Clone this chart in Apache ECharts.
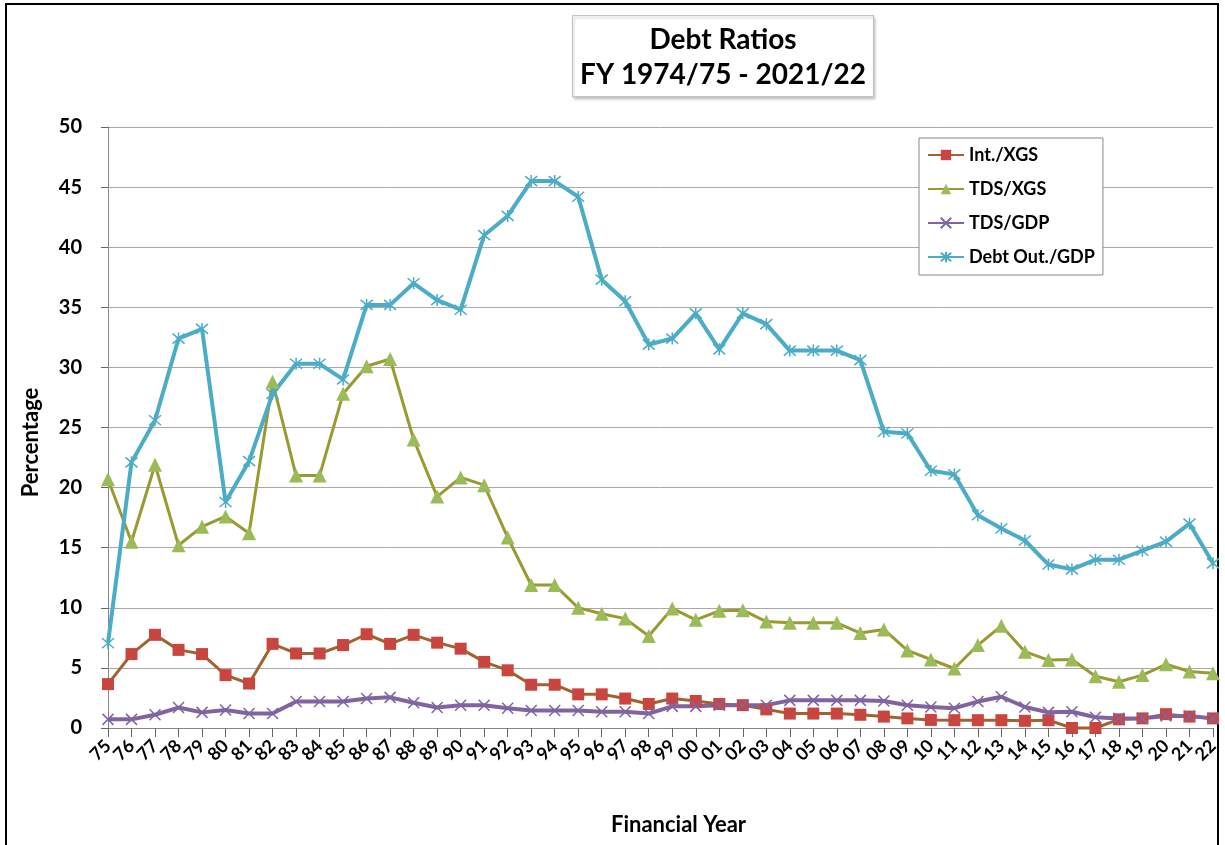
<!DOCTYPE html>
<html>
<head>
<meta charset="utf-8">
<title>Debt Ratios</title>
<script src="https://cdn.jsdelivr.net/npm/echarts@6/dist/echarts.min.js"></script>
<style>
  html, body { margin: 0; padding: 0; background: #fff; }
  #main { width: 1225px; height: 845px; }
</style>
</head>
<body>
<div id="main"></div>
<script>
var years = ['75','76','77','78','79','80','81','82','83','84','85','86','87','88','89','90',
  '91','92','93','94','95','96','97','98','99','00','01','02','03','04','05','06','07','08',
  '09','10','11','12','13','14','15','16','17','18','19','20','21','22'];

var intXgs = [3.65, 6.15, 7.75, 6.5, 6.15, 4.4, 3.7, 7.0, 6.2, 6.2,
  6.9, 7.8, 7.0, 7.75, 7.1, 6.6, 5.5, 4.8, 3.6, 3.6,
  2.8, 2.8, 2.45, 2.0, 2.45, 2.25, 2.0, 1.9, 1.55, 1.2,
  1.2, 1.2, 1.1, 0.95, 0.8, 0.67, 0.65, 0.65, 0.65, 0.6,
  0.65, 0.0, 0.0, 0.72, 0.8, 1.15, 0.95, 0.8];

var tdsXgs = [20.7, 15.5, 21.9, 15.2, 16.75, 17.6, 16.2, 28.8, 21.0, 21.0,
  27.8, 30.1, 30.7, 24.0, 19.25, 20.85, 20.2, 15.85, 11.9, 11.9,
  10.0, 9.5, 9.1, 7.65, 9.95, 9.0, 9.75, 9.8, 8.85, 8.75,
  8.75, 8.75, 7.9, 8.2, 6.45, 5.7, 4.95, 6.9, 8.5, 6.35,
  5.65, 5.7, 4.3, 3.85, 4.4, 5.3, 4.7, 4.55];

var tdsGdp = [0.72, 0.72, 1.1, 1.7, 1.3, 1.5, 1.2, 1.2, 2.2, 2.2,
  2.2, 2.45, 2.55, 2.1, 1.7, 1.9, 1.9, 1.65, 1.45, 1.45,
  1.45, 1.35, 1.35, 1.2, 1.8, 1.8, 1.9, 1.9, 1.9, 2.3,
  2.3, 2.3, 2.3, 2.25, 1.9, 1.75, 1.65, 2.2, 2.6, 1.75,
  1.3, 1.35, 0.9, 0.8, 0.8, 1.0, 1.0, 0.8];

var debtGdp = [7.05, 22.1, 25.6, 32.4, 33.2, 18.8, 22.2, 27.8, 30.3, 30.3,
  29.0, 35.2, 35.2, 37.0, 35.6, 34.8, 41.0, 42.6, 45.5, 45.5,
  44.2, 37.3, 35.5, 31.9, 32.4, 34.5, 31.5, 34.5, 33.6, 31.4,
  31.4, 31.4, 30.6, 24.65, 24.5, 21.4, 21.1, 17.7, 16.6, 15.6,
  13.6, 13.2, 14.0, 14.0, 14.75, 15.5, 17.0, 13.7];

var font = 'Lato, "Open Sans", sans-serif';
var crossPath = 'path://M0,0L10,10M10,0L0,10';
var starPath = 'path://M0,0L10,10M10,0L0,10M5,-1L5,11';

var chart = echarts.init(document.getElementById('main'));

var option = {
    animation: false,
    backgroundColor: '#fff',
    title: {
        text: 'Debt Ratios\nFY 1974/75 - 2021/22',
        left: 717,
        top: 15,
        textAlign: 'center',
        padding: [7, 6, 5, 6],
        borderColor: '#c4c4c4',
        borderWidth: 1,
        backgroundColor: '#fff',
        shadowColor: 'rgba(0,0,0,0.25)',
        shadowBlur: 3,
        shadowOffsetX: 1,
        shadowOffsetY: 2,
        textStyle: {
            width: 290,
            fontFamily: font,
            fontSize: 28,
            lineHeight: 35,
            fontWeight: 'bold',
            color: '#000'
        }
    },
    graphic: [
        {
            type: 'rect',
            shape: { x: 6, y: 4, width: 1212, height: 860 },
            style: { fill: 'none', stroke: '#000', lineWidth: 2 },
            silent: true
        }
    ],
    legend: {
        orient: 'vertical',
        left: 919,
        top: 138,
        padding: [6, 8, 7, 8],
        itemGap: 12,
        itemWidth: 36,
        itemHeight: 13,
        borderColor: '#888',
        borderWidth: 1,
        backgroundColor: '#fff',
        textStyle: {
            fontFamily: font,
            fontSize: 18,
            fontWeight: 'bold',
            color: '#000',
            lineHeight: 22
        },
        data: ['Int./XGS', 'TDS/XGS', 'TDS/GDP', 'Debt Out./GDP']
    },
    grid: {
        left: 108,
        right: 12,
        top: 127,
        bottom: 117,
        outerBoundsMode: 'none'
    },
    xAxis: {
        type: 'category',
        data: years,
        boundaryGap: false,
        name: 'Financial Year',
        nameLocation: 'middle',
        nameGap: 86,
        nameTextStyle: {
            fontFamily: font,
            fontSize: 22,
            fontWeight: 'bold',
            color: '#000',
            padding: [0, 0, 0, 36]
        },
        axisLine: { lineStyle: { color: '#888', width: 1 } },
        axisTick: { show: true, interval: 0, length: 9, lineStyle: { color: '#666' } },
        axisLabel: {
            interval: 0,
            rotate: 45,
            margin: 15,
            fontFamily: font,
            fontSize: 18,
            fontWeight: 'bold',
            color: '#000'
        },
        splitLine: { show: false }
    },
    yAxis: {
        type: 'value',
        min: 0,
        max: 50,
        interval: 5,
        name: 'Percentage',
        nameLocation: 'middle',
        nameRotate: 90,
        nameGap: 66,
        nameTextStyle: {
            fontFamily: font,
            fontSize: 22,
            fontWeight: 'bold',
            color: '#000',
            padding: [0, 30, 0, 0]
        },
        axisLine: { show: true, lineStyle: { color: '#888', width: 1 } },
        axisTick: { show: true, length: 7, lineStyle: { color: '#666' } },
        axisLabel: {
            margin: 26,
            fontFamily: font,
            fontSize: 20,
            fontWeight: 'bold',
            color: '#000'
        },
        splitLine: { show: true, lineStyle: { color: '#a8a8a8', width: 1 } }
    },
    series: [
        {
            name: 'Int./XGS',
            type: 'line',
            data: intXgs,
            clip: false,
            symbol: 'rect',
            symbolSize: 12,
            lineStyle: { color: '#a0622e', width: 3 },
            itemStyle: { color: '#c8463f' }
        },
        {
            name: 'TDS/XGS',
            type: 'line',
            data: tdsXgs,
            clip: false,
            symbol: 'triangle',
            symbolSize: 14,
            lineStyle: { color: '#9a9a33', width: 3 },
            itemStyle: { color: '#9bbb59' }
        },
        {
            name: 'TDS/GDP',
            type: 'line',
            data: tdsGdp,
            clip: false,
            symbol: crossPath,
            symbolSize: 11,
            lineStyle: { color: '#8064a2', width: 4 },
            itemStyle: { color: '#8064a2', borderColor: '#8064a2', borderWidth: 1.5 }
        },
        {
            name: 'Debt Out./GDP',
            type: 'line',
            data: debtGdp,
            clip: false,
            symbol: starPath,
            symbolSize: 12,
            lineStyle: { color: '#4bacc6', width: 4 },
            itemStyle: { color: '#4bacc6', borderColor: '#4bacc6', borderWidth: 1.5 }
        }
    ]
};

chart.setOption(option);
</script>
</body>
</html>
